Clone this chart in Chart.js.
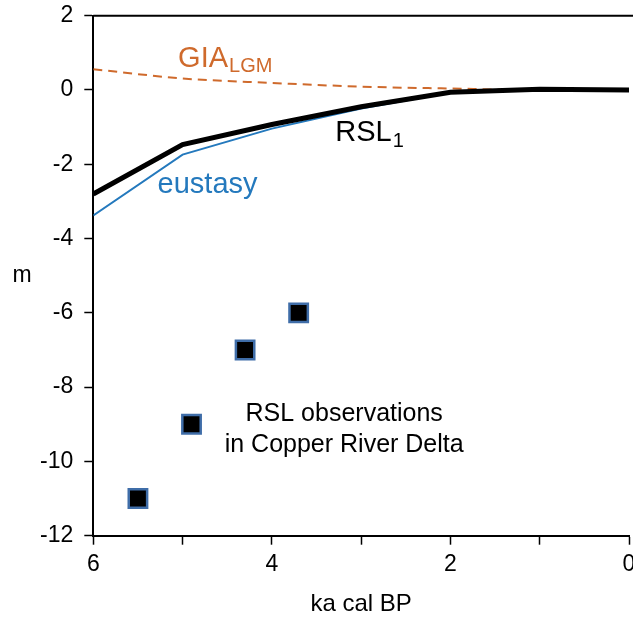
<!DOCTYPE html>
<html>
<head>
<meta charset="utf-8">
<script src="https://cdn.jsdelivr.net/npm/chart.js@4/dist/chart.umd.min.js"></script>
<style>
  html, body { margin: 0; padding: 0; background: #fff; overflow: hidden; }
  #wrap { width: 633px; height: 618px; overflow: hidden; }
</style>
</head>
<body>
<div id="wrap"><canvas id="rslChart" width="650" height="618"></canvas></div>
<script>
// ages in ka cal BP
var ages       = [6, 5, 4, 3, 2, 1, 0]
var rslModel   = [-2.8, -1.47, -0.93, -0.45, -0.06, 0.02, 0]
var eustasy    = [-3.38, -1.74, -1.04, -0.5, -0.07, 0, 0]
var giaLgm     = [0.56, 0.31, 0.19, 0.09, 0.04, 0, 0]

// RSL observations, Copper River Delta
var obsAges    = [5.5, 4.9, 4.3, 3.7]
var obsRsl     = [-11, -9, -7, -6]

var xTicks = [6, 4, 2, 0]
var yTicks = [2, 0, -2, -4, -6, -8, -10, -12]

var orange = '#CF6A2C'
var blue   = '#2479BD'
var fontFamily = '"Liberation Sans", Arial, sans-serif'

function toPoints(xs, ys) {
    return xs.map(function(x, i) { return {x: x, y: ys[i]} })
}

// text labels drawn on the plot, anchored in data units
var plotLabels = [
    {text: 'GIA', sub: 'LGM', x: 5.05, y: 0.84, color: orange, size: 29, subSize: 20, align: 'left'},
    {text: 'RSL', sub: '1', x: 3.29, y: -1.17, color: '#000', size: 29, subSize: 20, align: 'left'},
    {text: 'eustasy', x: 5.28, y: -2.55, color: blue, size: 29, align: 'left'},
    {text: 'RSL observations', x: 3.19, y: -8.72, color: '#000', size: 25, align: 'center'},
    {text: 'in Copper River Delta', x: 3.19, y: -9.57, color: '#000', size: 25, align: 'center'}
]

var decorations = {
    id: 'decorations',
    afterDraw: function(chart) {
        var ctx = chart.ctx
        var area = chart.chartArea
        var xs = chart.scales.x
        var ys = chart.scales.y
        ctx.save()
        // top frame line
        ctx.strokeStyle = '#000'
        ctx.lineWidth = 2
        ctx.beginPath()
        ctx.moveTo(area.left, area.top)
        ctx.lineTo(chart.width, area.top)
        ctx.stroke()

        ctx.textBaseline = 'middle'
        plotLabels.forEach(function(l) {
            var px = xs.getPixelForValue(l.x)
            var py = ys.getPixelForValue(l.y)
            ctx.fillStyle = l.color
            ctx.font = l.size + 'px ' + fontFamily
            ctx.textAlign = l.align
            ctx.fillText(l.text, px, py)
            if (l.sub) {
                var w = ctx.measureText(l.text).width
                ctx.font = l.subSize + 'px ' + fontFamily
                ctx.textAlign = 'left'
                ctx.fillText(l.sub, px + w + 1, py + 8)
            }
        })

        // axis titles
        ctx.fillStyle = '#000'
        ctx.font = '23px ' + fontFamily
        ctx.textAlign = 'center'
        ctx.fillText('m', 22, (area.top + area.bottom) / 2)
        ctx.font = '24px ' + fontFamily
        ctx.fillText('ka cal BP', (area.left + area.right) / 2, 604)
        ctx.restore()
    }
}

new Chart(document.getElementById('rslChart').getContext('2d'), {
    type: 'scatter',
    data: {
        datasets: [
            {
                label: 'RSL observations',
                data: toPoints(obsAges, obsRsl),
                pointStyle: 'rect',
                pointRadius: 13,
                backgroundColor: '#000',
                borderColor: '#3F6DA8',
                borderWidth: 2.5,
                showLine: false
            },
            {
                label: 'RSL1',
                data: toPoints(ages, rslModel),
                showLine: true,
                borderColor: '#000',
                borderWidth: 5,
                pointRadius: 0
            },
            {
                label: 'eustasy',
                data: toPoints(ages, eustasy),
                showLine: true,
                borderColor: blue,
                borderWidth: 2,
                pointRadius: 0
            },
            {
                label: 'GIA LGM',
                data: toPoints(ages, giaLgm),
                showLine: true,
                borderColor: orange,
                borderWidth: 2,
                borderDash: [9, 6],
                cubicInterpolationMode: 'monotone',
                pointRadius: 0
            }
        ]
    },
    options: {
        responsive: false,
        animation: false,
        layout: {padding: {top: 15.7, right: 21, bottom: 0, left: 0}},
        plugins: {legend: {display: false}, tooltip: {enabled: false}},
        scales: {
            x: {
                type: 'linear',
                reverse: true,
                min: 0,
                max: 6,
                afterFit: function(s) { s.height = 82.3 },
                border: {display: true, color: '#000', width: 2},
                grid: {drawOnChartArea: false, drawTicks: true, tickLength: 9, tickWidth: 1.5, tickColor: '#000'},
                ticks: {
                    stepSize: 1,
                    color: '#000',
                    padding: 6,
                    maxRotation: 0,
                    font: {size: 23, family: fontFamily},
                    callback: function(v) { return xTicks.indexOf(v) >= 0 ? v : '' }
                }
            },
            y: {
                min: -12,
                max: 2,
                afterFit: function(s) { s.width = 93.3; s.paddingTop = 0; s.paddingBottom = 0 },
                border: {display: true, color: '#000', width: 2},
                grid: {drawOnChartArea: false, drawTicks: true, tickLength: 9, tickWidth: 1.5, tickColor: '#000'},
                ticks: {
                    stepSize: 2,
                    color: '#000',
                    padding: 11,
                    font: {size: 23, family: fontFamily},
                    callback: function(v) { return yTicks.indexOf(v) >= 0 ? v : '' }
                }
            }
        }
    },
    plugins: [decorations]
})
</script>
</body>
</html>
